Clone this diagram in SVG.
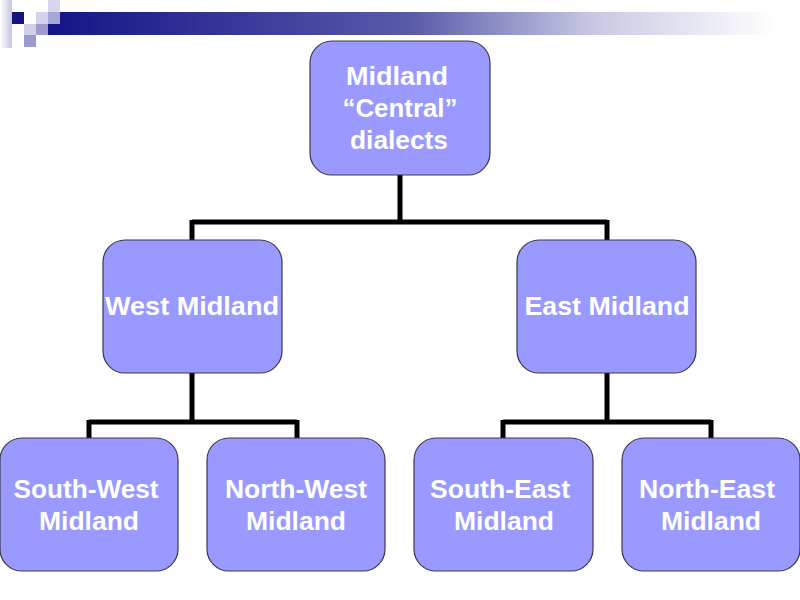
<svg xmlns="http://www.w3.org/2000/svg" width="800" height="600" viewBox="0 0 800 600">
<defs>
<linearGradient id="bar" x1="0" y1="0" x2="1" y2="0">
<stop offset="0" stop-color="#141488"/>
<stop offset="0.5" stop-color="#5a5aaa"/>
<stop offset="0.75" stop-color="#c8c8e4"/>
<stop offset="1" stop-color="#ffffff"/>
</linearGradient>
<linearGradient id="lstrip" x1="0" y1="0" x2="1" y2="0">
<stop offset="0" stop-color="#ffffff"/>
<stop offset="1" stop-color="#c4c4e2"/>
</linearGradient>
</defs>
<style>
.node rect { fill: #9999ff; stroke: #3a3a4a; stroke-width: 1.2; }
.node text { fill: #ffffff; font-family: "Liberation Sans", Arial, sans-serif; font-weight: bold; font-size: 25px; text-anchor: middle; }
.conn path { fill: none; stroke: #000000; stroke-width: 5; }
</style>
<rect x="0" y="0" width="800" height="600" fill="#ffffff"/>
<g id="decoration">
<rect x="48" y="12" width="727" height="23" fill="url(#bar)"/>
<rect x="0" y="0" width="12" height="48" fill="url(#lstrip)"/>
<rect x="12" y="12" width="12" height="12" fill="#141480"/>
<rect x="36" y="12" width="12" height="12" fill="#d2d2ec"/>
<rect x="48" y="0" width="12" height="12" fill="#d6d6ec"/>
<rect x="48" y="12" width="12" height="12" fill="#a8a8d6"/>
<rect x="24" y="24" width="12" height="11" fill="#d0d0ea"/>
<rect x="36" y="24" width="12" height="11" fill="#9c9cce"/>
<rect x="24" y="35" width="12" height="12" fill="#9a9ace"/>
</g>
<g class="conn" id="connectors">
<path d="M400 175 V222 M192 222 H607 M192 220 V240 M607 220 V240"/>
<path d="M192 373 V422 M89 422 H297 M89 420 V438 M297 420 V438"/>
<path d="M607 373 V422 M503 422 H711 M503 420 V438 M711 420 V438"/>
</g>
<g class="node" id="n-midland">
<rect x="310" y="41" width="180" height="134" rx="22"/>
<text x="397" y="85" textLength="102" lengthAdjust="spacingAndGlyphs">Midland</text>
<text x="400" y="117" textLength="115" lengthAdjust="spacingAndGlyphs">“Central”</text>
<text x="399" y="149" textLength="98" lengthAdjust="spacingAndGlyphs">dialects</text>
</g>
<g class="node" id="n-west">
<rect x="103" y="240" width="179" height="133" rx="22"/>
<text x="192" y="315" textLength="174" lengthAdjust="spacingAndGlyphs">West Midland</text>
</g>
<g class="node" id="n-east">
<rect x="517" y="240" width="179" height="133" rx="22"/>
<text x="607" y="315" textLength="165" lengthAdjust="spacingAndGlyphs">East Midland</text>
</g>
<g class="node" id="n-sw">
<rect x="0" y="438" width="178" height="133" rx="22"/>
<text x="86" y="498" textLength="145" lengthAdjust="spacingAndGlyphs">South-West</text>
<text x="89" y="530" textLength="100" lengthAdjust="spacingAndGlyphs">Midland</text>
</g>
<g class="node" id="n-nw">
<rect x="207" y="438" width="178" height="133" rx="22"/>
<text x="296" y="498" textLength="142" lengthAdjust="spacingAndGlyphs">North-West</text>
<text x="296" y="530" textLength="100" lengthAdjust="spacingAndGlyphs">Midland</text>
</g>
<g class="node" id="n-se">
<rect x="414" y="438" width="179" height="133" rx="22"/>
<text x="500" y="498" textLength="140" lengthAdjust="spacingAndGlyphs">South-East</text>
<text x="504" y="530" textLength="100" lengthAdjust="spacingAndGlyphs">Midland</text>
</g>
<g class="node" id="n-ne">
<rect x="622" y="438" width="178" height="133" rx="22"/>
<text x="707" y="498" textLength="136" lengthAdjust="spacingAndGlyphs">North-East</text>
<text x="711" y="530" textLength="100" lengthAdjust="spacingAndGlyphs">Midland</text>
</g>
</svg>
